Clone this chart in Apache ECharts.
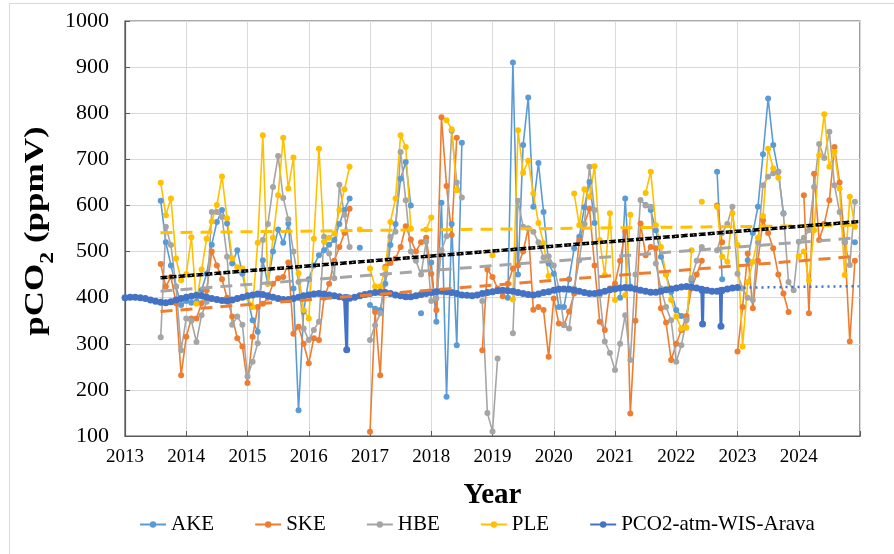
<!DOCTYPE html>
<html>
<head>
<meta charset="utf-8">
<script src="https://cdn.jsdelivr.net/npm/echarts@6/dist/echarts.min.js"></script>
<style>
  html, body { margin: 0; padding: 0; background: #ffffff; }
  #chart { width: 894px; height: 554px; }
</style>
</head>
<body>
<div id="chart"></div>
<script>
// Lake samples are monthly, starting August 2013 (null = no sample that month)
const lakeStartYear = 2013;
const lakeStartMonth = 8;

const akeValues = [
  610, 520, 470, 424, 384,
  393, 389, 391, 416, 452, 515, 564, 590, 561, 474, 503, 452,
  402, 351, 326, 481, 430, 500, 548, 519, 561, 420, 156, 370,
  440, 470, 492, 503, 515, 525, 560, 590, 615, null, 508, null,
  384, 376, 373, 430, 514, 560, 658, 694, 600, null, 366, null,
  476, 348, 606, 185, 560, 297, 736, null, null, null, null, null,
  null, null, null, 400, 910, 450, 731, 834, 597, 692, 586, 474,
  452, 380, 380, 440, 507, 532, 596, 651, 562, null, null, null,
  null, 400, 615, 424, null, null, 601, 590, 546, 489, 450, 413,
  373, 360, 355, 438, null, null, null, null, 673, 440, null, null,
  null, null, 481, 540, 597, 711, 832, 731, 673, 583, null, null,
  null, null, null, null, null, null, null, null, null, null, null, 520
];

const skeValues = [
  473, 424, 445, 388, 232,
  315, 355, 355, 388, 416, 500, 470, 440, 400, 359, 312, 294,
  215, 315, 380, 387, 400, 430, 442, 445, 476, 322, 337, 300,
  258, 312, 308, 400, 430, 480, 510, 540, 593, null, null, null,
  109, 369, 232, 467, 475, 485, 510, 555, 526, 500, 520, 530,
  452, 373, 791, 642, 536, 747, null, null, null, null, 286, 461,
  445, 420, 403, 430, 463, 470, 500, 550, 374, 380, 373, 272,
  398, 344, 341, 370, 409, 525, 560, 593, 470, 348, 330, 420,
  430, 480, 543, 149, 350, 561, 492, 510, 507, 377, 346, 265,
  300, 330, 360, 420, 450, 480, null, null, 600, 520, null, null,
  283, 380, 496, 377, 480, 568, 540, 507, 450, 409, 369, null,
  null, 622, 366, 669, 525, 560, 611, 727, 650, 520, 305, 480
];

const hbeValues = [
  314, 554, 514, 424, 286,
  355, 350, 304, 362, 391, 586, 586, 575, 489, 341, 359, 341,
  229, 261, 301, 525, 560, 640, 707, 616, 570, 500, 434, 333,
  308, 330, 348, 532, 496, 442, 645, 580, 510, null, null, null,
  308, 340, 366, 450, 532, 543, 716, 611, 500, 480, 450, 521,
  393, 398, 503, 533, 762, 650, 617, null, null, null, 393, 150,
  110, 268, null, null, 323, 610, 554, 550, 543, 520, 487, 490,
  470, 420, 340, 333, 420, 481, 560, 684, 590, 406, 305, 280,
  243, 300, 362, 265, 450, 612, 600, 597, 474, 420, 380, 351,
  261, 297, 351, 442, 480, 510, null, null, 503, 540, 560, 597,
  452, 420, 400, 395, 520, 644, 662, 670, 673, 582, 434, 416,
  521, 530, 546, 640, 733, 703, 760, 644, 586, 520, 471, 608
];

const pleValues = [
  649, 579, 615, 485, 438,
  451, 531, 387, 461, 528, 565, 601, 663, 572, 485, 466, 463,
  400, 380, 519, 752, 430, 530, 622, 747, 637, 704, 453, 373,
  355, 528, 723, 521, 530, 539, 590, 635, 684, null, 548, null,
  463, 424, 424, 463, 564, 615, 752, 727, 550, null, null, 548,
  574, null, null, 785, 765, 633, null, null, null, null, null, null,
  492, null, null, null, 396, 763, 671, 697, 626, 562, 518, 447,
  null, null, null, null, 626, 557, 635, 619, 685, 525, 449, 583,
  395, null, 405, 580, null, null, 627, 673, 557, 510, 450, 395,
  359, 333, 335, 503, null, 608, null, null, 597, 489, 478, 583,
  514, 294, 434, 478, 530, 577, 723, 680, 660, null, null, null,
  490, 500, 438, 546, 709, 798, 684, 716, 637, 449, 619, 554
];

// Atmospheric pCO2 (WIS Arava station), monthly from January 2013
const atmStartYear = 2013;
const atmValues = [
  400, 401, 401, 400, 398, 395, 392, 390, 389, 391, 395, 398,
  401, 403, 405, 404, 401, 398, 396, 394, 393, 395, 398, 401,
  404, 406, 408, 407, 404, 401, 398, 396, 396, 398, 401, 404,
  406, 408, 409, 408, 406, 404, 402, 400, 399, 401, 404, 407,
  409, 411, 412, 411, 409, 406, 404, 402, 402, 404, 407, 409,
  411, 413, 414, 413, 411, 409, 406, 405, 404, 406, 409, 411,
  413, 415, 416, 415, 414, 411, 409, 407, 406, 408, 411, 413,
  416, 418, 419, 418, 416, 414, 411, 409, 409, 411, 414, 417,
  419, 421, 422, 421, 419, 416, 414, 412, 412, 414, 417, 419,
  421, 423, 424, 423, 421, 418, 416, 414, 414, 416, 419, 421,
  422
];
// Short single-reading drops in the atmospheric record
const spikeYears = [2016.62, 2022.43, 2022.73];
const spikeLows = [287, 343, 338];
const spikeBase = [400, 416, 415];

// Linear trend lines: [start year, start value, end year, end value]
const akeTrend = [2013.58, 443, 2024.98, 565];
const skeTrend = [2013.58, 370, 2024.98, 490];
const hbeTrend = [2013.58, 414, 2024.98, 530];
const pleTrend = [2013.58, 541, 2024.98, 557];
const atmTrend = [2023.0, 421.5, 2024.98, 425];

const yearTicks = ['2013', '2014', '2015', '2016', '2017', '2018', '2019', '2020', '2021', '2022', '2023', '2024'];

const FONT = '"Liberation Serif", "Times New Roman", serif';

function monthly(values, year, month) {
  return values.map((v, i) => [year + (month - 1 + i) / 12, v == null ? '-' : v]);
}

function atmPoints() {
  const pts = monthly(atmValues, atmStartYear, 1);
  spikeYears.forEach((y, i) => {
    pts.push([y - 0.01, spikeBase[i]], [y, spikeLows[i]], [y + 0.01, spikeBase[i]]);
  });
  return pts.sort((a, b) => a[0] - b[0]);
}

function lakeSeries(name, values, color) {
  return {
    name, type: 'line', data: monthly(values, lakeStartYear, lakeStartMonth),
    symbol: 'circle', symbolSize: 6, showAllSymbol: true, connectNulls: false,
    lineStyle: { color, width: 1.6 }, itemStyle: { color },
    emphasis: { disabled: true }, z: 2
  };
}

function trendSeries(t, color, type, width, z) {
  return {
    type: 'line', data: [[t[0], t[1]], [t[2], t[3]]], symbol: 'none',
    lineStyle: { color, width, type }, silent: true, z: z || 5
  };
}

const chart = echarts.init(document.getElementById('chart'), null, { renderer: 'canvas' });

chart.setOption({
  animation: false,
  backgroundColor: '#ffffff',
  grid: { left: 125, right: 34, top: 21, bottom: 118, show: true, borderColor: '#595959', borderWidth: 1.2 },
  graphic: [
    {
      // light frame around the chart area
      type: 'rect', silent: true, z: -1,
      shape: { x: 9.5, y: 3.5, width: 900, height: 600 },
      style: { fill: 'none', stroke: '#d9d9d9', lineWidth: 1 }
    },
    {
      // rotated y-axis title with subscript
      type: 'text', x: 40, y: 231, rotation: Math.PI / 2, scaleX: 1.25,
      style: {
        text: '{a|pCO}{s|2}{a| (ppmV)}', align: 'center', verticalAlign: 'middle',
        rich: {
          a: { fontFamily: FONT, fontSize: 28, fontWeight: 'bold', fill: '#000', padding: [0, 0, 8, 0], verticalAlign: 'bottom' },
          s: { fontFamily: FONT, fontSize: 19, fontWeight: 'bold', fill: '#000', verticalAlign: 'bottom' }
        }
      }
    }
  ],
  xAxis: {
    type: 'value', min: 2013, max: 2025, interval: 1,
    axisLine: { show: true, lineStyle: { color: '#595959', width: 1.2 } },
    axisTick: { show: true, inside: true, length: 5, lineStyle: { color: '#595959' } },
    splitLine: { show: true, lineStyle: { color: '#d9d9d9', width: 1 } },
    axisLabel: {
      color: '#000', fontFamily: FONT, fontSize: 19, margin: 12,
      formatter: v => yearTicks[v - 2013] || ''
    },
    name: 'Year', nameLocation: 'middle', nameGap: 45,
    nameTextStyle: { color: '#000', fontFamily: FONT, fontSize: 29, fontWeight: 'bold' }
  },
  yAxis: {
    type: 'value', min: 100, max: 1000, interval: 100,
    axisLine: { show: true, lineStyle: { color: '#595959', width: 1.2 } },
    axisTick: { show: true, inside: true, length: 5, lineStyle: { color: '#595959' } },
    splitLine: { show: true, lineStyle: { color: '#d9d9d9', width: 1 } },
    axisLabel: { color: '#000', fontFamily: FONT, fontSize: 22, margin: 16, formatter: v => String(v) }
  },
  legend: {
    top: 509, left: 134, itemGap: 40, itemWidth: 26, itemHeight: 8,
    textStyle: { fontFamily: FONT, fontSize: 21, color: '#000' },
    data: ['AKE', 'SKE', 'HBE', 'PLE',
      { name: 'PCO2-atm-WIS-Arava', lineStyle: { width: 2 } }]
  },
  series: [
    lakeSeries('AKE', akeValues, '#5b9bd5'),
    lakeSeries('SKE', skeValues, '#ed7d31'),
    lakeSeries('HBE', hbeValues, '#a5a5a5'),
    lakeSeries('PLE', pleValues, '#ffc000'),
    {
      name: 'PCO2-atm-WIS-Arava', type: 'line', data: atmPoints(),
      symbol: 'circle', symbolSize: 7, showAllSymbol: true,
      lineStyle: { color: '#4472c4', width: 3 }, itemStyle: { color: '#4472c4' },
      emphasis: { disabled: true }, z: 3
    },
    trendSeries(pleTrend, '#ffc000', [12, 8], 3),
    trendSeries(hbeTrend, '#a5a5a5', [12, 8], 3),
    trendSeries(skeTrend, '#ed7d31', [12, 8], 3),
    trendSeries(akeTrend, '#000000', [7, 2], 3.5),
    trendSeries(akeTrend, '#c8c8c8', [1.5, 4.5], 1, 6),
    trendSeries(atmTrend, '#4472c4', [2, 4], 2.5)
  ]
});
</script>
</body>
</html>
